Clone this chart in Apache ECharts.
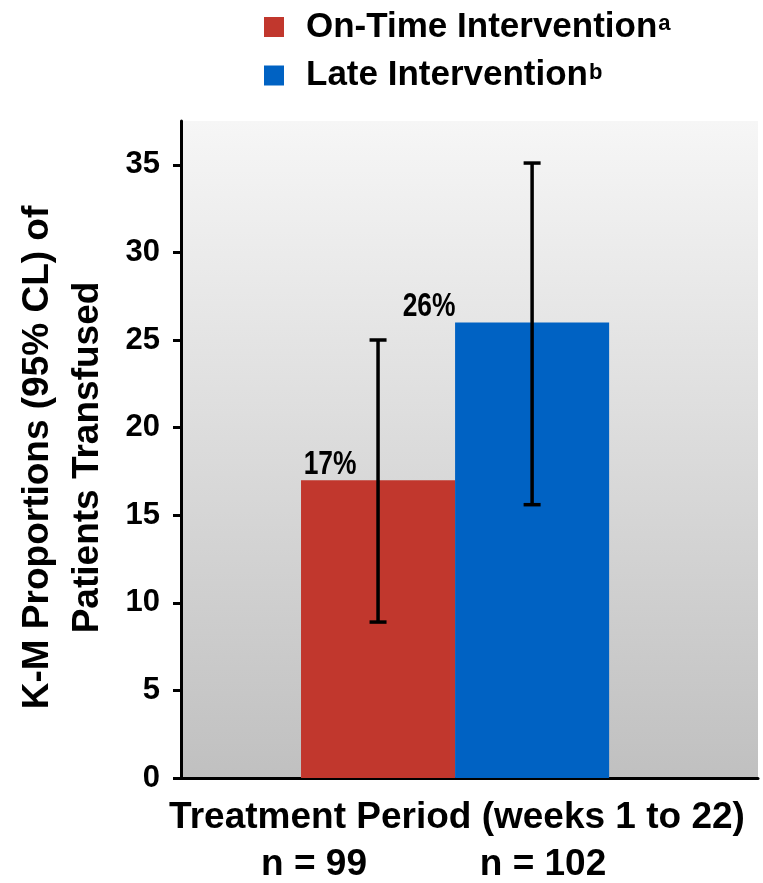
<!DOCTYPE html>
<html>
<head>
<meta charset="utf-8">
<script src="https://cdn.jsdelivr.net/npm/echarts@6/dist/echarts.min.js"></script>
<style>
html,body{margin:0;padding:0;background:#fff;}
#c{width:763px;height:883px;}
</style>
</head>
<body>
<div id="c"></div>
<script>
const categories = [''];
const seriesNames = ['On-Time Intervention', 'Late Intervention'];
const superscripts = ['a', 'b'];
const values = [17, 26];
const ciLow = [8.9, 15.6];
const ciHigh = [25.0, 35.1];
const yTicks = [0, 5, 10, 15, 20, 25, 30, 35];
const nLabels = ['n = 99', 'n = 102'];
const xTitle = 'Treatment Period (weeks 1 to 22)';
const yTitle = ['K-M Proportions (95% CL) of', 'Patients Transfused'];

const colors = ['#C1372D', '#0062C3'];
const FONT = '"Liberation Sans", Arial, sans-serif';
const BAR_FRAC = 0.267;
const SPACER_FRAC = 0.05;
const LABEL_SHIFT = [-48, -103];

const chart = echarts.init(document.getElementById('c'), null, {renderer: 'canvas'});

function barCenterX(api, k) {
  const band = api.size([1, 0])[0];
  const bw = band * BAR_FRAC;
  const W = bw * 2 + band * SPACER_FRAC;
  return api.coord([0, 0])[0] - W / 2 + bw * (k + 0.5);
}

const barSeries = seriesNames.map((name, i) => ({
  name: name,
  type: 'bar',
  barWidth: (BAR_FRAC * 100) + '%',
  barGap: '0%',
  itemStyle: {color: colors[i]},
  data: categories.map(() => values[i]),
  z: 2
}));

const spacer = {
  name: '_spacer',
  type: 'bar',
  barWidth: (SPACER_FRAC * 100) + '%',
  barGap: '0%',
  itemStyle: {color: 'rgba(0,0,0,0)'},
  data: categories.map(() => 0),
  silent: true
};

const labelSeries = {
  type: 'custom',
  name: '_lbl',
  z: 6,
  data: values.map((v, k) => [0, v, k]),
  renderItem: function (params, api) {
    const k = api.value(2);
    const top = api.coord([0, api.value(1)]);
    const x = barCenterX(api, k) + LABEL_SHIFT[k];
    return {
      type: 'text',
      x: x,
      y: top[1] + 1,
      scaleX: 0.8,
      style: {
        text: api.value(1) + '%',
        x: 0, y: 0,
        font: 'bold 33px "Liberation Sans", Arial, sans-serif',
        fill: '#000',
        textAlign: 'center',
        textVerticalAlign: 'bottom'
      }
    };
  }
};

const errSeries = {
  type: 'custom',
  name: '_err',
  z: 5,
  data: values.map((v, k) => [0, ciLow[k], ciHigh[k], k]),
  renderItem: function (params, api) {
    const k = api.value(3);
    const lo = api.coord([api.value(0), api.value(1)]);
    const hi = api.coord([api.value(0), api.value(2)]);
    const x = barCenterX(api, k);
    const cap = 8.5;
    const st = {stroke: '#000', lineWidth: 3.5};
    return {
      type: 'group',
      children: [
        {type: 'line', shape: {x1: x, y1: lo[1], x2: x, y2: hi[1]}, style: st},
        {type: 'line', shape: {x1: x - cap, y1: lo[1], x2: x + cap, y2: lo[1]}, style: st},
        {type: 'line', shape: {x1: x - cap, y1: hi[1], x2: x + cap, y2: hi[1]}, style: st}
      ]
    };
  }
};

const option = {
  animation: false,
  backgroundColor: '#fff',
  textStyle: {fontFamily: FONT},
  legend: {
    data: seriesNames,
    orient: 'vertical',
    left: 264,
    top: 6,
    padding: 0,
    itemWidth: 20,
    itemHeight: 20,
    itemGap: 10,
    icon: 'rect',
    textStyle: {
      fontFamily: FONT,
      fontWeight: 'bold',
      fontSize: 35,
      color: '#000',
      padding: [0, 0, 0, 17],
      rich: {
        n: {fontFamily: FONT, fontWeight: 'bold', fontSize: 35, color: '#000', lineHeight: 42},
        s: {fontFamily: FONT, fontWeight: 'bold', fontSize: 22, color: '#000', verticalAlign: 'top', lineHeight: 22, padding: [7, 0, 0, 1]}
      }
    },
    formatter: name => '{n|' + name + '}{s|' + superscripts[seriesNames.indexOf(name)] + '}'
  },
  title: [
    {text: xTitle, left: 457, top: 799, textAlign: 'center', padding: 0,
     textStyle: {fontFamily: FONT, fontWeight: 'bold', fontSize: 37, color: '#000'}},
    {text: nLabels[0], left: 314, top: 846, textAlign: 'center', padding: 0,
     textStyle: {fontFamily: FONT, fontWeight: 'bold', fontSize: 37, color: '#000'}},
    {text: nLabels[1], left: 543, top: 846, textAlign: 'center', padding: 0,
     textStyle: {fontFamily: FONT, fontWeight: 'bold', fontSize: 37, color: '#000'}}
  ],
  grid: {
    show: true,
    left: 181, right: 5, top: 121, bottom: 105,
    containLabel: false,
    outerBoundsMode: 'none',
    borderWidth: 0,
    backgroundColor: new echarts.graphic.LinearGradient(0, 0, 0, 1, [
      {offset: 0, color: '#F6F6F6'},
      {offset: 1, color: '#C0C0C0'}
    ])
  },
  xAxis: {
    type: 'category',
    data: categories,
    axisLine: {show: true, lineStyle: {color: '#000', width: 3}},
    axisTick: {show: false},
    axisLabel: {show: false},
    splitLine: {show: false}
  },
  yAxis: {
    type: 'value',
    min: 0,
    max: 37.5,
    interval: 5,
    name: yTitle.join('\n'),
    nameLocation: 'middle',
    nameGap: 68,
    nameTextStyle: {fontFamily: FONT, fontWeight: 'bold', fontSize: 37, color: '#000', lineHeight: 50, align: 'center', padding: [0, 16, 0, 0]},
    axisLine: {show: true, lineStyle: {color: '#000', width: 3}},
    axisTick: {show: true, inside: false, length: 8, lineStyle: {color: '#000', width: 3}, customValues: yTicks},
    axisLabel: {fontFamily: FONT, fontWeight: 'bold', fontSize: 31, color: '#000', margin: 21, customValues: yTicks},
    splitLine: {show: false}
  },
  series: barSeries.concat([spacer, errSeries, labelSeries])
};

chart.setOption(option);
</script>
</body>
</html>
